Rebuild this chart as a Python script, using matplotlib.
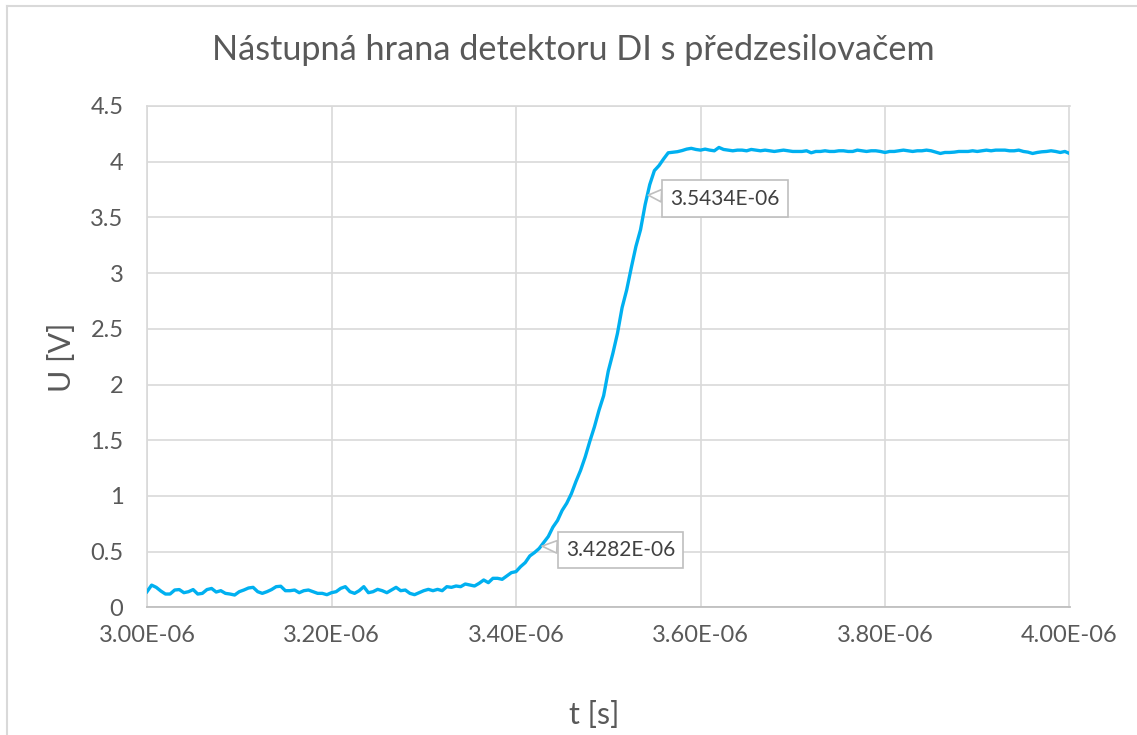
## rise_edge.py
# nastupna hrana detektoru DI s predzesilovacem - prubeh napeti z osciloskopu
import numpy as np
import matplotlib
matplotlib.use('Agg')
import matplotlib.pyplot as plt
from matplotlib.lines import Line2D

#======= data =======#
# time of each sample (ns)
t_ns = [3000, 3005, 3010, 3015, 3020, 3025, 3030, 3035, 3040, 3045,
        3050, 3055, 3060, 3065, 3070, 3075, 3080, 3085, 3090, 3095,
        3100, 3105, 3110, 3115, 3120, 3125, 3130, 3135, 3140, 3145,
        3150, 3155, 3160, 3165, 3170, 3175, 3180, 3185, 3190, 3195,
        3200, 3205, 3210, 3215, 3220, 3225, 3230, 3235, 3240, 3245,
        3250, 3255, 3260, 3265, 3270, 3275, 3280, 3285, 3290, 3295,
        3300, 3305, 3310, 3315, 3320, 3325, 3330, 3335, 3340, 3345,
        3350, 3355, 3360, 3365, 3370, 3375, 3380, 3385, 3390, 3395,
        3400, 3405, 3410, 3415, 3420, 3425, 3430, 3435, 3440, 3445,
        3450, 3455, 3460, 3465, 3470, 3475, 3480, 3485, 3490, 3495,
        3500, 3505, 3510, 3515, 3520, 3525, 3530, 3535, 3540, 3545,
        3550, 3555, 3560, 3565, 3570, 3575, 3580, 3585, 3590, 3595,
        3600, 3605, 3610, 3615, 3620, 3625, 3630, 3635, 3640, 3645,
        3650, 3655, 3660, 3665, 3670, 3675, 3680, 3685, 3690, 3695,
        3700, 3705, 3710, 3715, 3720, 3725, 3730, 3735, 3740, 3745,
        3750, 3755, 3760, 3765, 3770, 3775, 3780, 3785, 3790, 3795,
        3800, 3805, 3810, 3815, 3820, 3825, 3830, 3835, 3840, 3845,
        3850, 3855, 3860, 3865, 3870, 3875, 3880, 3885, 3890, 3895,
        3900, 3905, 3910, 3915, 3920, 3925, 3930, 3935, 3940, 3945,
        3950, 3955, 3960, 3965, 3970, 3975, 3980, 3985, 3990, 3995,
        4000]

# detector voltage (V)
u_V = [0.141, 0.200, 0.180, 0.147, 0.120, 0.120, 0.156, 0.160, 0.132, 0.141,
       0.160, 0.120, 0.126, 0.160, 0.170, 0.138, 0.150, 0.126, 0.120, 0.111,
       0.141, 0.156, 0.174, 0.180, 0.141, 0.126, 0.141, 0.160, 0.186, 0.190,
       0.150, 0.150, 0.156, 0.132, 0.150, 0.156, 0.141, 0.126, 0.126, 0.114,
       0.132, 0.141, 0.171, 0.186, 0.141, 0.126, 0.150, 0.186, 0.132, 0.141,
       0.162, 0.150, 0.132, 0.156, 0.180, 0.150, 0.156, 0.126, 0.114, 0.132,
       0.150, 0.162, 0.150, 0.162, 0.150, 0.186, 0.180, 0.192, 0.186, 0.210,
       0.201, 0.192, 0.216, 0.246, 0.222, 0.261, 0.261, 0.252, 0.282, 0.312,
       0.321, 0.366, 0.402, 0.462, 0.492, 0.528, 0.582, 0.636, 0.720, 0.780,
       0.870, 0.935, 1.020, 1.130, 1.230, 1.350, 1.490, 1.620, 1.770, 1.900,
       2.120, 2.280, 2.460, 2.690, 2.850, 3.050, 3.240, 3.390, 3.615, 3.795,
       3.920, 3.965, 4.025, 4.080, 4.085, 4.090, 4.100, 4.113, 4.120, 4.110,
       4.104, 4.113, 4.104, 4.098, 4.128, 4.110, 4.104, 4.098, 4.104, 4.104,
       4.098, 4.110, 4.104, 4.098, 4.104, 4.098, 4.092, 4.098, 4.104, 4.098,
       4.092, 4.092, 4.092, 4.098, 4.080, 4.092, 4.092, 4.098, 4.092, 4.092,
       4.098, 4.098, 4.092, 4.092, 4.104, 4.098, 4.092, 4.098, 4.098, 4.092,
       4.083, 4.092, 4.092, 4.098, 4.104, 4.098, 4.092, 4.098, 4.098, 4.104,
       4.098, 4.086, 4.074, 4.083, 4.083, 4.086, 4.092, 4.092, 4.092, 4.098,
       4.092, 4.098, 4.104, 4.098, 4.104, 4.104, 4.104, 4.098, 4.098, 4.104,
       4.092, 4.086, 4.074, 4.083, 4.089, 4.092, 4.098, 4.092, 4.083, 4.092,
       4.074]

# marked points (10 % and 90 % of the edge)
mark_t = [3.4282e-06, 3.5434e-06]
mark_u = [0.55, 3.70]
mark_text = ['3.4282E-06', '3.5434E-06']
mark_text_pos = [(3.5133e-06, 0.516), (3.6266e-06, 3.669)]

x_ticks = [3.0e-06, 3.2e-06, 3.4e-06, 3.6e-06, 3.8e-06, 4.0e-06]
x_ticklabels = ['3.00E-06', '3.20E-06', '3.40E-06', '3.60E-06', '3.80E-06', '4.00E-06']
y_ticks = [0, 0.5, 1, 1.5, 2, 2.5, 3, 3.5, 4, 4.5]
y_ticklabels = ['0', '0.5', '1', '1.5', '2', '2.5', '3', '3.5', '4', '4.5']

TITLE = 'Nástupná hrana detektoru DI s předzesilovačem'
XLABEL = 't [s]'
YLABEL = 'U [V]'

#======= plot =======#
plt.rcParams['font.family'] = ['Lato', 'DejaVu Sans']
TXT = '#595959'
GRID = '#D9D9D9'
W, H = 1137, 735

fig = plt.figure(figsize=(W/100, H/100), dpi=100)
ax = fig.add_axes([147/W, 1 - 607.4/H, (1069.5 - 147)/W, (607.4 - 106)/H])

t = np.array(t_ns) * 1e-9
ax.plot(t, u_V, color='#00B0F0', lw=2.4, solid_joinstyle='round', zorder=3)

ax.set_xlim(3.0e-06, 4.0e-06)
ax.set_ylim(0, 4.5)
ax.set_xticks(x_ticks)
ax.set_xticklabels(x_ticklabels)
ax.set_yticks(y_ticks)
ax.set_yticklabels(y_ticklabels)
ax.tick_params(axis='both', length=0, labelsize=17, labelcolor=TXT)
ax.tick_params(axis='x', pad=13)
ax.tick_params(axis='y', pad=17)
ax.grid(True, color=GRID, lw=1.2, zorder=0)
ax.set_axisbelow(True)
for side in ['left', 'right', 'top']:
    ax.spines[side].set_color(GRID)
    ax.spines[side].set_linewidth(1.2)
ax.spines['bottom'].set_color('#BFBFBF')
ax.spines['bottom'].set_linewidth(1.3)

for xt, yt, txt, pos in zip(mark_t, mark_u, mark_text, mark_text_pos):
    ax.annotate(txt, xy=(xt, yt), xytext=pos, ha='center', va='center',
                fontsize=15, color='#404040', zorder=5,
                bbox=dict(boxstyle='square,pad=0.4', fc='white', ec='#BFBFBF', lw=1.2),
                arrowprops=dict(arrowstyle='wedge,tail_width=0.6,shrink_factor=0.5',
                                fc='white', ec='#BFBFBF', lw=1.2,
                                shrinkA=0, shrinkB=0))

# titles placed in figure pixels
fig.text(573/W, 1 - 50/H, TITLE, ha='center', va='center', fontsize=24.7, color=TXT)
fig.text(594/W, 1 - 715/H, XLABEL, ha='center', va='center', fontsize=22, color=TXT)
fig.text(62/W, 1 - 357/H, YLABEL, ha='center', va='center', fontsize=22, color=TXT,
         rotation=90)

# chart area border (cropped at right and bottom)
fig.add_artist(Line2D([7/W, 7/W], [0, 1 - 6/H], color=GRID, lw=1.5))
fig.add_artist(Line2D([7/W, 1], [1 - 6/H, 1 - 6/H], color=GRID, lw=1.5))

fig.savefig('out.png', dpi=100)
